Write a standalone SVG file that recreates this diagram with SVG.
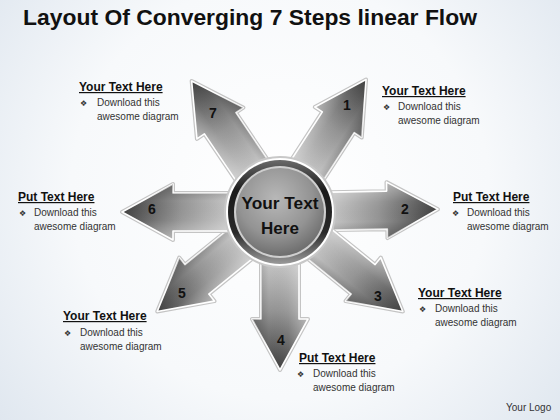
<svg xmlns="http://www.w3.org/2000/svg" width="560" height="420" viewBox="0 0 560 420">
<defs>
<radialGradient id="bg" cx="280" cy="190" r="380" gradientUnits="userSpaceOnUse">
<stop offset="0" stop-color="#ffffff"/><stop offset="0.55" stop-color="#f7f9fb"/><stop offset="1" stop-color="#dde5ee"/>
</radialGradient>
<linearGradient id="arrowFill" x1="0" y1="0" x2="1" y2="0">
<stop offset="0" stop-color="#c6c6c6"/><stop offset="0.45" stop-color="#959595"/><stop offset="1" stop-color="#3e3e3e"/>
</linearGradient>
<linearGradient id="arrowShine" x1="0" y1="0" x2="0" y2="1">
<stop offset="0" stop-color="#ffffff" stop-opacity="0.4"/><stop offset="0.35" stop-color="#ffffff" stop-opacity="0.05"/><stop offset="0.7" stop-color="#000000" stop-opacity="0"/><stop offset="1" stop-color="#000000" stop-opacity="0.25"/>
</linearGradient>
<linearGradient id="ring" x1="0" y1="0" x2="0" y2="1">
<stop offset="0" stop-color="#6a6a6a"/><stop offset="0.3" stop-color="#1a1a1a"/><stop offset="0.7" stop-color="#2a2a2a"/><stop offset="1" stop-color="#9a9a9a"/>
</linearGradient>
<radialGradient id="disk" cx="0.45" cy="0.35" r="0.7">
<stop offset="0" stop-color="#b8b8b8"/><stop offset="0.6" stop-color="#939393"/><stop offset="1" stop-color="#666666"/>
</radialGradient>
<path id="arrow" d="M50,-19 L107,-19 L107,-28 L158,0 L107,28 L107,19 L50,19 Z"/>
</defs>
<style>
.glow{fill:none;stroke:#c4c4c4;stroke-width:4;stroke-linejoin:round}
.edge{fill:url(#arrowFill);stroke:#ffffff;stroke-width:1.6;stroke-linejoin:round}
.shine{fill:url(#arrowShine);stroke:none}
.num{font-family:"Liberation Sans",Arial,sans-serif;font-weight:bold;font-size:14px;fill:#111;text-anchor:middle}
.head{font-family:"Liberation Sans",Arial,sans-serif;font-weight:bold;font-size:12px;fill:#111;text-decoration:underline}
.body{font-family:"Liberation Sans",Arial,sans-serif;font-size:10px;fill:#333}
.bul{font-family:"DejaVu Sans",sans-serif;font-size:8px;fill:#333}
</style>
<rect x="0" y="0" width="560" height="420" fill="url(#bg)"/>
<text x="23" y="25" font-family="Liberation Sans,Arial,sans-serif" font-weight="bold" font-size="22" fill="#111" textLength="454" lengthAdjust="spacingAndGlyphs">Layout Of Converging 7 Steps linear Flow</text>

<g id="connectors"></g>

<g id="step1">
<g transform="translate(280,212) rotate(-57)"><use href="#arrow" class="glow"/><use href="#arrow" class="edge"/><use href="#arrow" class="shine"/></g>
<text class="num" x="347" y="110">1</text>
<text class="head" x="382" y="95">Your Text Here</text>
<text class="bul" x="383" y="110">❖</text>
<text class="body" x="398" y="110">Download this</text>
<text class="body" x="398" y="124">awesome diagram</text>
</g>
<g id="step2">
<g transform="translate(280,212) rotate(-1)"><use href="#arrow" class="glow"/><use href="#arrow" class="edge"/><use href="#arrow" class="shine"/></g>
<text class="num" x="405" y="214">2</text>
<text class="head" x="453" y="201">Put Text Here</text>
<text class="bul" x="452" y="216">❖</text>
<text class="body" x="467" y="216">Download this</text>
<text class="body" x="467" y="230">awesome diagram</text>
</g>
<g id="step3">
<g transform="translate(280,212) rotate(39)"><use href="#arrow" class="glow"/><use href="#arrow" class="edge"/><use href="#arrow" class="shine"/></g>
<text class="num" x="378" y="301">3</text>
<text class="head" x="418" y="297">Your Text Here</text>
<text class="bul" x="419" y="312">❖</text>
<text class="body" x="435" y="312">Download this</text>
<text class="body" x="435" y="326">awesome diagram</text>
</g>
<g id="step4">
<g transform="translate(280,212) rotate(90)"><use href="#arrow" class="glow"/><use href="#arrow" class="edge"/><use href="#arrow" class="shine"/></g>
<text class="num" x="281" y="345">4</text>
<text class="head" x="299" y="362">Put Text Here</text>
<text class="bul" x="297" y="377">❖</text>
<text class="body" x="313" y="377">Download this</text>
<text class="body" x="313" y="391">awesome diagram</text>
</g>
<g id="step5">
<g transform="translate(280,212) rotate(141)"><use href="#arrow" class="glow"/><use href="#arrow" class="edge"/><use href="#arrow" class="shine"/></g>
<text class="num" x="182" y="298">5</text>
<text class="head" x="63" y="320">Your Text Here</text>
<text class="bul" x="64" y="336">❖</text>
<text class="body" x="80" y="336">Download this</text>
<text class="body" x="80" y="350">awesome diagram</text>
</g>
<g id="step6">
<g transform="translate(280,212) rotate(180)"><use href="#arrow" class="glow"/><use href="#arrow" class="edge"/><use href="#arrow" class="shine"/></g>
<text class="num" x="152" y="214">6</text>
<text class="head" x="18" y="201">Put Text Here</text>
<text class="bul" x="19" y="216">❖</text>
<text class="body" x="34" y="216">Download this</text>
<text class="body" x="34" y="230">awesome diagram</text>
</g>
<g id="step7">
<g transform="translate(280,212) rotate(-124)"><use href="#arrow" class="glow"/><use href="#arrow" class="edge"/><use href="#arrow" class="shine"/></g>
<text class="num" x="213" y="118">7</text>
<text class="head" x="79" y="91">Your Text Here</text>
<text class="bul" x="80" y="106">❖</text>
<text class="body" x="97" y="106">Download this</text>
<text class="body" x="97" y="120">awesome diagram</text>
</g>

<g id="center">
<circle cx="280" cy="212" r="55" fill="#ffffff" stroke="#c8c8c8" stroke-width="2"/>
<circle cx="280" cy="212" r="52" fill="url(#ring)"/>
<circle cx="280" cy="212" r="46" fill="#cfcfcf"/>
<circle cx="280" cy="212" r="44" fill="url(#disk)"/>
<text x="280" y="209" font-family="Liberation Sans,Arial,sans-serif" font-weight="bold" font-size="17" fill="#111" text-anchor="middle" textLength="77" lengthAdjust="spacingAndGlyphs">Your Text</text>
<text x="280" y="234" font-family="Liberation Sans,Arial,sans-serif" font-weight="bold" font-size="17" fill="#111" text-anchor="middle">Here</text>
</g>

<text x="506" y="411" font-family="Liberation Sans,Arial,sans-serif" font-size="10" fill="#333">Your Logo</text>
</svg>
